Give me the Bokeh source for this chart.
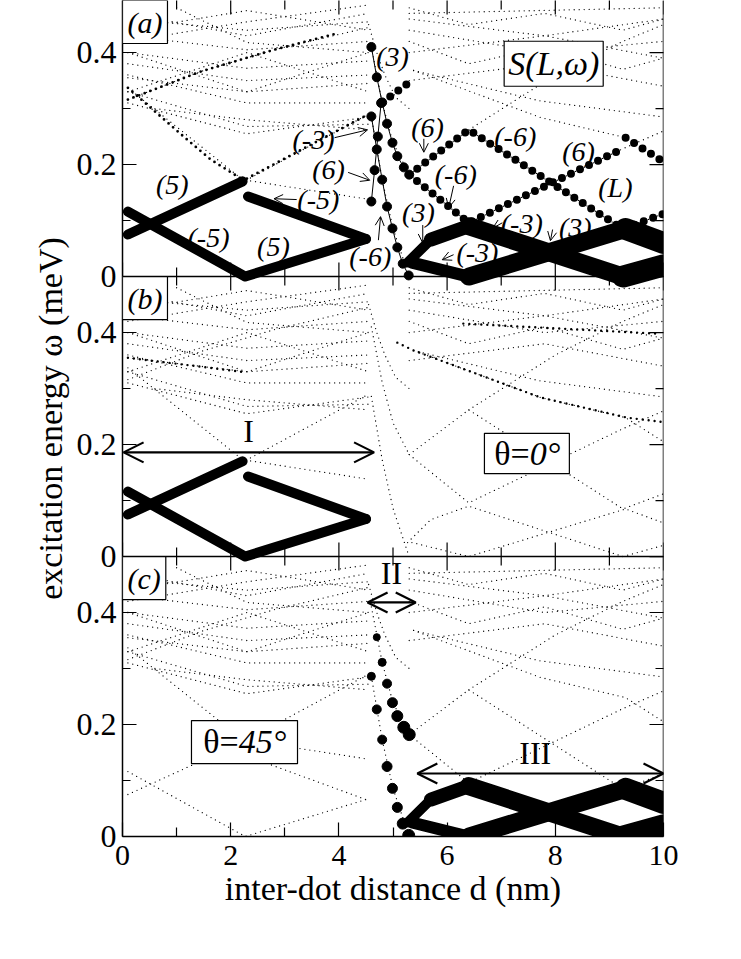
import math
from bokeh.plotting import figure
from bokeh.models import (Range1d, FixedTicker, Label, Arrow, OpenHead, Span, BoxAnnotation)
from bokeh.embed import file_html
from bokeh.resources import INLINE

SERIF = "Liberation Serif"
INK = "black"

# ---------------- ticks / panels ----------------
x_major = [0, 2, 4, 6, 8, 10]
x_minor = [1, 3, 5, 7, 9]
x_tick_labels = ["0", "2", "4", "6", "8", "10"]
y_major = [0.0, 0.2, 0.4]
y_minor = [0.1, 0.3]
y_tick_labels = ["0", "0.2", "0.4"]
panels = ["a", "b", "c"]
panel_base = {"a": 1.0, "b": 0.5, "c": 0.0}
Y_TOP = 1.493
panel_top = {"a": Y_TOP - 1.0, "b": 0.5, "c": 0.5}

# ---------------- heavy diamond (panels a, b) ----------------
dia_rise_x = [0.10, 2.22]
dia_rise_y = [0.075, 0.170]
dia_vee_x = [0.10, 2.27, 4.50]
dia_vee_y = [0.116, 0.000, 0.067]
dia_fall_x = [2.32, 4.50]
dia_fall_y = [0.143, 0.067]

# ---------------- steep chains near d = 4.6 .. 5.3 ----------------
chainA_x = [4.60, 4.70, 4.80, 4.89, 4.99, 5.08, 5.20, 5.30]
chainA_y = [0.410, 0.356, 0.311, 0.273, 0.239, 0.215, 0.195, 0.182]
chainB_x = [4.60, 4.70, 4.80, 4.89, 4.99, 5.08, 5.18, 5.29]
chainB_y = [0.286, 0.227, 0.173, 0.125, 0.086, 0.052, 0.023, 0.002]
chainC_x = [4.60, 4.66, 4.72, 4.78]
chainC_y = [0.134, 0.190, 0.250, 0.310]

# ---------------- heavy dotted branches (panel a) ----------------
br3_x = [4.80, 5.32]
br3_y = [0.311, 0.348]
br6_x = [5.30, 6.40, 9.25, 10.0]
br6_y = [0.182, 0.262, 0.085, 0.112]
brm6_x = [5.30, 6.40, 9.22]
brm6_y = [0.182, 0.096, 0.227]
brr_x = [9.30, 10.0]
brr_y = [0.248, 0.205]

# ---------------- thick bands (panels a, c) ----------------
band1_x = [5.27, 5.70, 6.40, 9.25, 10.0]
band1_y = [0.025, 0.066, 0.090, 0.000, 0.020]
band2_x = [5.35, 6.40, 9.30, 10.0]
band2_y = [0.025, 0.000, 0.085, 0.060]

# ---------------- faint background spectrum (all panels) ----------------
bg_left_xs = [
    [0.10, 2.25, 4.55], [0.10, 2.27, 4.50], [2.32, 4.50], [0.10, 2.22, 4.55],
    [0.10, 2.30, 4.55], [0.10, 2.30, 4.55], [0.60, 2.30, 4.55],
    [0.10, 1.44, 2.80, 4.55], [0.10, 2.30, 4.55], [0.10, 2.30, 4.55],
    [0.10, 2.30, 4.55], [0.10, 2.30, 4.55], [0.10, 2.30, 4.55],
    [1.00, 2.30, 4.55], [0.10, 2.30, 4.55], [0.10, 2.30, 4.55],
    [0.10, 2.30, 4.55], [0.10, 2.30, 4.55], [0.10, 2.30, 4.55], [0.10, 2.30, 4.55],
]
bg_left_ys = [
    [0.075, 0.170, 0.290], [0.116, 0.000, 0.066], [0.143, 0.066], [0.337, 0.173, 0.138],
    [0.310, 0.255, 0.285], [0.330, 0.268, 0.272], [0.300, 0.280, 0.262],
    [0.316, 0.366, 0.405, 0.445], [0.355, 0.330, 0.345], [0.380, 0.350, 0.360],
    [0.400, 0.372, 0.385], [0.430, 0.405, 0.420], [0.460, 0.440, 0.455],
    [0.480, 0.418, 0.400], [0.400, 0.330, 0.400], [0.330, 0.400, 0.330],
    [0.470, 0.430, 0.470], [0.440, 0.475, 0.440], [0.360, 0.310, 0.310], [0.420, 0.455, 0.485],
]
bg_mid_xs = [[4.60, 4.80, 5.00, 5.30], [4.60, 4.80, 5.00, 5.29], [4.55, 4.70, 4.85, 5.05, 5.30]]
bg_mid_ys = [[0.410, 0.311, 0.239, 0.182], [0.286, 0.173, 0.086, 0.002], [0.450, 0.400, 0.360, 0.320, 0.300]]
bg_right_xs = [
    [5.30, 6.40, 9.25, 10.0], [5.30, 6.40, 9.22, 10.0], [5.38, 7.73, 9.30, 10.0],
    [5.27, 5.70, 6.40, 9.25, 10.0], [5.35, 6.40, 9.30, 10.0], [6.40, 8.00, 9.25, 10.0],
    [5.38, 7.70, 10.0], [5.30, 7.80, 10.0], [5.30, 7.80, 10.0], [5.30, 7.80, 10.0],
    [5.30, 6.40, 7.80, 9.25, 10.0], [5.30, 7.80, 10.0], [5.30, 6.40, 7.80, 9.25, 10.0],
    [5.30, 10.0],
]
bg_right_ys = [
    [0.182, 0.262, 0.085, 0.112], [0.182, 0.096, 0.227, 0.260], [0.368, 0.284, 0.248, 0.205],
    [0.025, 0.066, 0.090, 0.000, 0.020], [0.025, 0.000, 0.085, 0.060], [0.262, 0.360, 0.420, 0.450],
    [0.368, 0.314, 0.285], [0.440, 0.400, 0.420], [0.460, 0.430, 0.390], [0.400, 0.430, 0.460],
    [0.480, 0.450, 0.470, 0.440, 0.460], [0.350, 0.380, 0.340], [0.420, 0.380, 0.410, 0.370, 0.390],
    [0.470, 0.480],
]
# somewhat stronger dotted lines
med_a_xs = [[0.10, 1.13, 1.63, 2.22], [0.10, 1.44, 2.80, 4.00], [2.30, 4.55]]
med_a_ys = [[0.337, 0.250, 0.209, 0.173], [0.316, 0.366, 0.405, 0.435], [0.175, 0.290]]
med_b_xs = [[5.08, 5.38, 7.73, 9.33, 10.0], [0.10, 2.20], [6.30, 9.90]]
med_b_ys = [[0.382, 0.368, 0.284, 0.248, 0.240], [0.355, 0.330], [0.416, 0.398]]

# ---------------- figure ----------------
p = figure(frame_width=541, frame_height=836, x_range=Range1d(0, 10), y_range=Range1d(0, Y_TOP),
           output_backend="svg", toolbar_location=None, min_border_left=122, min_border_right=20,
           min_border_top=0, min_border_bottom=86)
p.extra_y_ranges = {"a": Range1d(-panel_base["a"], Y_TOP - panel_base["a"]),
                    "b": Range1d(-panel_base["b"], Y_TOP - panel_base["b"])}
p.grid.visible = False
p.outline_line_color = None


def rn(pn):
    return "default" if pn == "c" else pn


# background
for pn in panels:
    r = rn(pn)
    for xs, ys in ((bg_left_xs, bg_left_ys), (bg_mid_xs, bg_mid_ys), (bg_right_xs, bg_right_ys)):
        p.multi_line(xs=xs, ys=ys, line_color=INK, line_width=1.3, line_dash="0 5",
                     line_cap="round", y_range_name=r)

p.multi_line(xs=med_a_xs, ys=med_a_ys, line_color=INK, line_width=2.8, line_dash="0 6",
             line_cap="round", y_range_name="a")
p.multi_line(xs=med_b_xs, ys=med_b_ys, line_color=INK, line_width=2.4, line_dash="0 6",
             line_cap="round", y_range_name="b")

# heavy diamond (a, b)
for r in ("a", "b"):
    for xs, ys in ((dia_rise_x, dia_rise_y), (dia_vee_x, dia_vee_y), (dia_fall_x, dia_fall_y)):
        p.line(xs, ys, line_color=INK, line_width=10, line_cap="round", line_join="round",
               y_range_name=r)

# panel a: heavy dotted branches and chains
for xs, ys in ((br3_x, br3_y), (br6_x, br6_y), (brm6_x, brm6_y), (brr_x, brr_y)):
    p.line(xs, ys, line_color=INK, line_width=8, line_dash="0 10", line_cap="round",
           line_join="round", y_range_name="a")
for xs, ys in ((chainA_x, chainA_y), (chainB_x, chainB_y), (chainC_x, chainC_y)):
    p.line(xs, ys, line_color=INK, line_width=1, y_range_name="a")
    p.scatter(xs, ys, size=9, color=INK, y_range_name="a")

# panel c: chains as growing dots
p.scatter(chainA_x[1:], chainA_y[1:], size=[7, 8, 9, 10, 11, 12, 12], color=INK)
p.scatter(chainB_x, chainB_y, size=[8, 9, 9, 10, 10, 10, 11, 12], color=INK)

# thick bands (a, c)
for r in ("a", "default"):
    p.segment(x0=band1_x[:-1], y0=band1_y[:-1], x1=band1_x[1:], y1=band1_y[1:],
              line_width=[10, 14, 18, 22], line_color=INK, line_cap="round", y_range_name=r)
    p.segment(x0=band2_x[:-1], y0=band2_y[:-1], x1=band2_x[1:], y1=band2_y[1:],
              line_width=[12, 18, 22], line_color=INK, line_cap="round", y_range_name=r)

# ---------------- axes ----------------
y_ticks = [round(panel_base[pn] + v, 6) for pn in panels for v in y_major]
y_mticks = [round(panel_base[pn] + v, 6) for pn in panels for v in y_minor]
y_over = {round(panel_base[pn] + v, 6): t for pn in panels for v, t in zip(y_major, y_tick_labels)}

ax = p.yaxis[0]
ax.ticker = FixedTicker(ticks=y_ticks, minor_ticks=y_mticks)
ax.major_label_overrides = y_over
ax.axis_label = "excitation energy ω (meV)"
xa = p.xaxis[0]
xa.ticker = FixedTicker(ticks=x_major, minor_ticks=x_minor)
xa.major_label_overrides = {v: t for v, t in zip(x_major, x_tick_labels)}
xa.axis_label = "inter-dot distance d (nm)"

for a in (ax, xa):
    a.axis_label_text_font = SERIF
    a.axis_label_text_font_size = "34px"
    a.axis_label_text_font_style = "normal"
    a.axis_label_text_color = INK
    a.major_label_text_font = SERIF
    a.major_label_text_color = INK
    a.major_tick_in = 14
    a.major_tick_out = 0
    a.minor_tick_out = 0
    a.axis_line_width = 1.5
    a.axis_line_color = INK
    a.major_tick_line_color = INK
    a.minor_tick_line_color = INK
    a.major_tick_line_width = 1.2
    a.minor_tick_line_width = 1.2
ax.major_label_text_font_size = "32px"
xa.major_label_text_font_size = "30px"
ax.minor_tick_in = 8
xa.minor_tick_in = 9
ax.major_label_standoff = 6
ax.axis_label_standoff = 5
xa.major_label_standoff = 9
xa.axis_label_standoff = 2

# right frame edge and its inward ticks
p.add_layout(Span(location=10, dimension="height", line_color=INK, line_width=1.5))
p.scatter([10] * len(y_ticks), y_ticks, marker="dash", size=28, line_color=INK, line_width=1.2)
p.scatter([10] * len(y_mticks), y_mticks, marker="dash", size=16, line_color=INK, line_width=1.2)

# internal panel borders and their x ticks (both directions), top ticks
for pn in ("a", "b"):
    p.add_layout(Span(location=panel_base[pn], dimension="width", line_color=INK, line_width=1.5))
for r, yv in (("a", 0.0), ("b", 0.0), ("a", panel_top["a"])):
    p.scatter(x_major, [yv] * len(x_major), marker="dash", angle=math.pi / 2, size=28,
              line_color=INK, line_width=1.2, y_range_name=r)
    p.scatter(x_minor, [yv] * len(x_minor), marker="dash", angle=math.pi / 2, size=18,
              line_color=INK, line_width=1.2, y_range_name=r)


# ---------------- annotations ----------------
def lab(text, x, y, r, size="28px", style="italic", align="center", baseline="middle", **kw):
    l = Label(x=x, y=y, text=text, text_font=SERIF, text_font_size=size, text_font_style=style,
              text_align=align, text_baseline=baseline, text_color=INK, **kw)
    if r != "default":
        l.y_range_name = r
    p.add_layout(l)
    return l


def arr(x0, y0, x1, y1, r, size=9, w=1.0, both=False):
    a = Arrow(x_start=x0, y_start=y0, x_end=x1, y_end=y1, line_width=w, line_color=INK,
              end=OpenHead(size=size, line_width=w, line_color=INK),
              start=OpenHead(size=size, line_width=w, line_color=INK) if both else None)
    if r != "default":
        a.y_range_name = r
    p.add_layout(a)


# panel labels
for pn in panels:
    lab("(%s)" % pn, 0.0, panel_top[pn], rn(pn), size="30px", align="left", baseline="top",
        border_line_color=INK, border_line_width=1.2, background_fill_color="white",
        padding=5)

# panel a mode labels
lab("S(L,ω)", 7.97, 0.380, "a", size="34px", border_line_color=INK, border_line_width=1.2,
    background_fill_color="white", padding=4)
lab("(5)", 0.92, 0.164, "a")
lab("(-5)", 1.59, 0.070, "a")
lab("(5)", 2.79, 0.054, "a")
lab("(-5)", 3.62, 0.1375, "a"); arr(3.22, 0.1375, 2.80, 0.139, "a")
lab("(-3)", 3.53, 0.245, "a"); arr(3.92, 0.248, 4.53, 0.262, "a")
lab("(6)", 3.81, 0.191, "a"); arr(4.17, 0.186, 4.57, 0.172, "a")
lab("(-6)", 4.58, 0.036, "a"); arr(4.73, 0.065, 4.77, 0.107, "a")
lab("(3)", 4.99, 0.393, "a")
lab("(6)", 5.64, 0.266, "a"); arr(5.57, 0.246, 5.57, 0.222, "a")
lab("(-6)", 6.16, 0.182, "a"); arr(6.12, 0.162, 6.03, 0.123, "a")
lab("(-6)", 7.26, 0.250, "a")
lab("(6)", 8.43, 0.223, "a")
lab("(L)", 9.11, 0.159, "a")
lab("(3)", 5.47, 0.114, "a"); arr(5.55, 0.092, 5.55, 0.060, "a")
lab("(-3)", 7.38, 0.095, "a"); arr(7.02, 0.096, 6.84, 0.086, "a")
lab("(3)", 8.37, 0.088, "a"); arr(7.95, 0.084, 7.91, 0.064, "a")
lab("(-3)", 6.56, 0.043, "a"); arr(6.12, 0.039, 5.91, 0.030, "a")

# panel b
lab("I", 2.33, 0.224, "b", size="32px", style="normal")
arr(0.02, 0.186, 4.65, 0.186, "b", size=20, w=2.2, both=True)
p.add_layout(BoxAnnotation(left=6.69, right=8.26, bottom=0.648, top=0.720, fill_color="white",
                           fill_alpha=1.0, line_color=INK, line_alpha=1.0, line_width=1.2))
lab("θ=", 7.47, 0.184, "b", size="34px", style="normal", align="right", x_offset=3)
lab("0°", 7.47, 0.184, "b", size="34px", style="italic", align="left", x_offset=3)

# panel c
lab("II", 4.97, 0.470, "default", size="32px", style="normal")
arr(4.53, 0.418, 5.42, 0.418, "default", size=20, w=2.2, both=True)
lab("III", 7.63, 0.150, "default", size="32px", style="normal")
arr(5.45, 0.1125, 10.0, 0.1125, "default", size=20, w=2.2, both=True)
p.add_layout(BoxAnnotation(left=1.275, right=3.235, bottom=0.130, top=0.207, fill_color="white",
                           fill_alpha=1.0, line_color=INK, line_alpha=1.0, line_width=1.2))
lab("θ=", 2.26, 0.17, "default", size="34px", style="normal", align="right", x_offset=-6)
lab("45°", 2.26, 0.17, "default", size="34px", style="italic", align="left", x_offset=-6)

open("out.html", "w").write(file_html(p, INLINE))
